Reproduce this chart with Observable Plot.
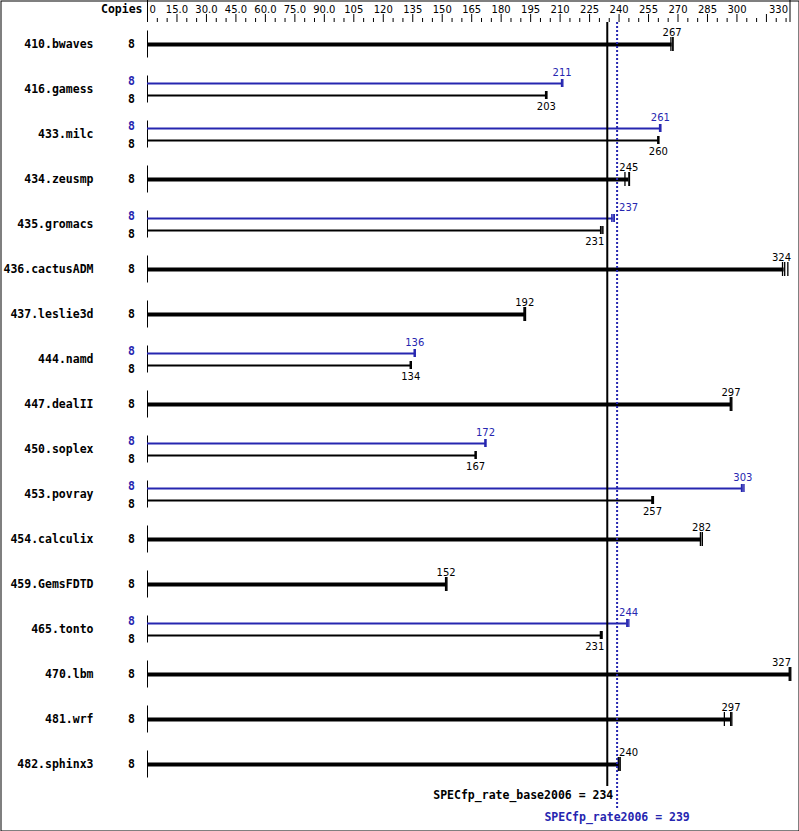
<!DOCTYPE html>
<html><head><meta charset="utf-8">
<script src="https://cdn.jsdelivr.net/npm/d3@7"></script>
<script src="https://cdn.jsdelivr.net/npm/@observablehq/plot@0.6"></script>
<style>body{margin:0;background:#fff} svg{display:block}</style>
</head><body><div id="chart"></div>
<script>
// ---- data ----
const benchmarks = ["410.bwaves","416.gamess","433.milc","434.zeusmp","435.gromacs","436.cactusADM","437.leslie3d","444.namd","447.dealII","450.soplex","453.povray","454.calculix","459.GemsFDTD","465.tonto","470.lbm","481.wrf","482.sphinx3"];
const copies = [8,8,8,8,8,8,8,8,8,8,8,8,8,8,8,8,8];
const peakCopies = [null,8,8,null,8,null,null,8,null,8,8,null,null,8,null,null,null];
const baseValues = [267,203,260,245,231,324,192,134,297,167,257,282,152,231,327,297,240];
const peakValues = [null,211,261,null,237,null,null,136,null,172,303,null,null,244,null,null,null];
const baseRuns = [
  [266.4,267.4,267.4],[202.6,203,203.3],[259.7,260,260.3],[243,245,245.3],[230.6,231.3,231.8],
  [323.2,324.3,325.9],[191.6,192,192.4],[133.7,134,134.3],[296.6,297,297.4],[166.7,167,167.3],
  [256.7,257,257.5],[281.4,282.4,282.4],[151.7,152,152.4],[230.5,231,231.4],[326.6,327,327.4],
  [293.6,296.8,297.4],[239.6,240,240.6]
];
const peakRuns = [
  null,[210.7,211,211.4],[260.6,261,261.3],null,[236.3,237,237.6],null,null,[135.7,136,136.3],
  null,[171.7,172,172.3],[302.3,303,303.6],null,null,[243.9,244.4,245],null,null,null
];
const baseMean = 234;
const peakMean = 239;
const baseMeanLabel = "SPECfp_rate_base2006";
const peakMeanLabel = "SPECfp_rate2006";
const axisMajor = [0,15,30,45,60,75,90,105,120,135,150,165,180,195,210,225,240,255,270,285,300,315,327];
const axisLabels = ["0","15.0","30.0","45.0","60.0","75.0","90.0","105","120","135","150","165","180","195","210","225","240","255","270","285","300","","330"];
const axisMinor = d3.range(5, 326, 5).filter(v => v % 15 !== 0);

// ---- derived ----
const blue = "#2626b0";
const OFF = 6/45;          // peak/base bar offset (row units)
const topY = -22/45;       // axis baseline (row units)
const rows = benchmarks.map((name,i)=>({i,name,copies:copies[i],pc:peakCopies[i],base:baseValues[i],peak:peakValues[i]}));
const single = rows.filter(r=>r.peak==null);
const dual = rows.filter(r=>r.peak!=null);

const ticksBlack = [], ticksBlue = [];
rows.forEach(r=>{
  if (r.peak==null) baseRuns[r.i].forEach(v=>ticksBlack.push({x:v,y:r.i,h:7/45}));
  else {
    peakRuns[r.i].forEach(v=>ticksBlue.push({x:v,y:r.i-OFF,h:4/45}));
    baseRuns[r.i].forEach(v=>ticksBlack.push({x:v,y:r.i+OFF,h:4/45}));
  }
});

// value labels
const labels = [];
rows.forEach(r=>{
  if (r.peak==null) labels.push({v:r.base,y:r.i,dy:-12,c:"black"});
  else {
    labels.push({v:r.peak,y:r.i-OFF,dy:-11,c:blue});
    labels.push({v:r.base,y:r.i+OFF,dy:11,c:"black"});
  }
});
const half = 4.6;
labels.forEach(l=>{
  if (l.v + half > baseMean - 0.5 && l.v < (baseMean+peakMean)/2) {l.anchor="end"; l.x=baseMean; l.dx=-3;}
  else if (l.v - half < peakMean + 0.5 && l.v >= (baseMean+peakMean)/2) {l.anchor="start"; l.x=peakMean; l.dx=2;}
  else if (l.v + half > 327) {l.anchor="end"; l.x=327; l.dx=1;}
  else {l.anchor="middle"; l.x=l.v; l.dx=0;}
});

const mono = "DejaVu Sans Mono";
const sans = "DejaVu Sans";
const axisT = axisMajor.map((v,k)=>({v,label:axisLabels[k],end:(k===0||k===axisMajor.length-1)}));

const labelMarks = [];
for (const anchor of ["start","middle","end"]) for (const c of ["black",blue]) {
  const sub = labels.filter(l=>l.anchor===anchor && l.c===c);
  for (const dy of [-12,-11,11]) {
    const s2 = sub.filter(l=>l.dy===dy);
    if (!s2.length) continue;
    for (const dx of [...new Set(s2.map(l=>l.dx))]) {
      labelMarks.push(Plot.text(s2.filter(l=>l.dx===dx),{x:"x",y:"y",text:d=>String(d.v),fill:c,textAnchor:anchor,dx,dy,fontFamily:sans,fontSize:10}));
    }
  }
}

const chart = Plot.plot({
  width: 799, height: 831,
  marginTop:0, marginBottom:0, marginLeft:0, marginRight:0,
  x: {domain:[0,327], range:[147,789.5], axis:null},
  y: {domain:[0,16], range:[44,764], axis:null},
  style: {background:"white", fontFamily:sans, fontSize:"10px", color:"black"},
  marks: [
    Plot.frame({inset:0.5, stroke:"black"}),
    // top axis
    Plot.ruleX(axisT.filter(t=>!t.end),{x:"v",y1:topY-8/45,y2:topY,stroke:"black",strokeWidth:1}),
    Plot.ruleX(axisT.filter(t=>t.end),{x:"v",y1:topY-22/45,y2:topY,stroke:"black",strokeWidth:1}),
    Plot.ruleX(axisMinor,{x:d=>d,y1:topY-4/45,y2:topY,stroke:"black",strokeWidth:1}),
    Plot.text(axisT.slice(1,-1),{x:"v",y:topY-13/45,text:"label",textAnchor:"middle",fontFamily:sans,fontSize:10}),
    Plot.text(axisT.slice(0,1),{x:"v",y:topY-13/45,text:"label",textAnchor:"start",dx:2,fontFamily:sans,fontSize:10}),
    Plot.text(axisT.slice(-1),{x:"v",y:topY-13/45,text:"label",textAnchor:"end",dx:-2,fontFamily:sans,fontSize:10}),
    Plot.text(["Copies"],{x:0,y:topY-13/45,text:d=>d,textAnchor:"end",dx:-5,fontFamily:mono,fontWeight:"bold",fontSize:11.5}),
    // row axis segments
    Plot.ruleX(rows,{x:0,y1:d=>d.i-0.3,y2:d=>d.i+0.3,stroke:"black",strokeWidth:1}),
    // names & copies
    Plot.text(rows,{x:0,y:"i",text:"name",textAnchor:"end",dx:-54,fontFamily:mono,fontWeight:"bold",fontSize:11.5}),
    Plot.text(single,{x:0,y:"i",text:d=>String(d.copies),textAnchor:"middle",dx:-16,fontFamily:mono,fontWeight:"bold",fontSize:11.5}),
    Plot.text(dual,{x:0,y:d=>d.i-8/45,text:d=>String(d.pc),fill:blue,textAnchor:"middle",dx:-16,fontFamily:mono,fontWeight:"bold",fontSize:11.5}),
    Plot.text(dual,{x:0,y:d=>d.i+9.5/45,text:d=>String(d.copies),textAnchor:"middle",dx:-16,fontFamily:mono,fontWeight:"bold",fontSize:11.5}),
    // bars
    Plot.ruleY(single,{y:"i",x1:0,x2:"base",stroke:"black",strokeWidth:4}),
    Plot.ruleY(dual,{y:d=>d.i-OFF,x1:0,x2:"peak",stroke:blue,strokeWidth:2}),
    Plot.ruleY(dual,{y:d=>d.i+OFF,x1:0,x2:"base",stroke:"black",strokeWidth:2}),
    // run ticks
    Plot.ruleX(ticksBlack,{x:"x",y1:d=>d.y-d.h,y2:d=>d.y+d.h,stroke:"black",strokeWidth:1.3}),
    Plot.ruleX(ticksBlue,{x:"x",y1:d=>d.y-d.h,y2:d=>d.y+d.h,stroke:blue,strokeWidth:1.3}),
    // reference lines
    Plot.ruleX([baseMean],{x:d=>d,y1:topY,y2:742/45,stroke:"black",strokeWidth:2}),
    Plot.ruleX([peakMean],{x:d=>d,y1:topY,y2:764/45,stroke:blue,strokeWidth:2,strokeDasharray:"2,2"}),
    Plot.text([baseMean],{x:d=>d,y:751/45,text:d=>`${baseMeanLabel} = ${d}`,textAnchor:"end",dx:6,fontFamily:mono,fontWeight:"bold",fontSize:11.5}),
    Plot.text([peakMean],{x:d=>d,y:773/45,text:d=>`${peakMeanLabel} = ${d}`,fill:blue,textAnchor:"middle",fontFamily:mono,fontWeight:"bold",fontSize:11.5}),
    ...labelMarks
  ]
});
document.getElementById("chart").append(chart);
</script>
</body></html>
